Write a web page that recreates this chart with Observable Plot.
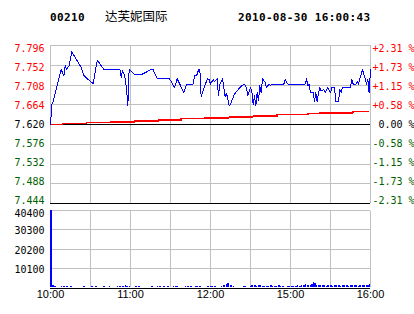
<!DOCTYPE html>
<html><head><meta charset="utf-8">
<script src="https://cdn.jsdelivr.net/npm/d3@7"></script>
<script src="https://cdn.jsdelivr.net/npm/@observablehq/plot@0.6"></script>
<style>
html,body{margin:0;padding:0;background:#fff;}
#wrap{position:relative;width:414px;height:314px;overflow:hidden;background:#fff;}
#wrap > *{position:absolute;left:0;}
</style></head><body><div id="wrap"></div>
<script>
// ---- header ----
const stockCode = "00210";
const stockName = "达芙妮国际";
const stamp = "2010-08-30 16:00:43";

// ---- price panel ----
const prevClose = 7.620;
const priceTicks = [7.796, 7.752, 7.708, 7.664, 7.620, 7.576, 7.532, 7.488, 7.444];
const priceLabels = ["7.796","7.752","7.708","7.664","7.620","7.576","7.532","7.488","7.444"];
const pctLabels = ["+2.31 %","+1.73 %","+1.15 %","+0.58 %"," 0.00 %","-0.58 %","-1.15 %","-1.73 %","-2.31 %"];

// trading minutes since 10:00 (morning 10:00-12:30, afternoon 14:30-16:00)
const priceMin = [0,1,2,8,10,11,12,14,16,17,23,25,28,32,35,36,38,40,52,53,54,55,56,57,58,59,60,61,63,68,72,75,77,80,89,91,93,95,97,100,102,107,108,110,111,112,113,115,116,118,119,120,122,123,125,126,127,129,130,131,132,134,135,138,142,145,146,147,148,150,151,152,153,154,155,156,157,158,159,161,162,164,165,166,175,176,177,178,191,192,193,194,195,197,198,199,200,201,202,203,205,206,207,208,210,211,213,214,216,217,218,219,225,226,227,229,230,231,232,233,234,235,236,237,238,239,240];
const priceVal = [7.620,7.665,7.671,7.743,7.728,7.751,7.743,7.751,7.782,7.777,
7.747,7.730,7.721,7.711,7.762,7.760,7.751,7.743,7.743,7.725,
7.740,7.733,7.722,7.700,7.662,7.743,7.740,7.737,7.731,7.731,
7.737,7.742,7.742,7.722,7.722,7.714,7.702,7.722,7.710,7.691,
7.710,7.710,7.728,7.731,7.742,7.743,7.682,7.699,7.710,7.722,
7.720,7.710,7.720,7.715,7.722,7.684,7.710,7.722,7.702,7.682,
7.690,7.662,7.665,7.688,7.702,7.710,7.708,7.702,7.684,7.702,
7.695,7.665,7.684,7.662,7.691,7.673,7.706,7.691,7.722,7.714,
7.702,7.710,7.706,7.710,7.710,7.721,7.715,7.710,7.710,7.722,
7.706,7.710,7.691,7.691,7.671,7.691,7.671,7.691,7.702,7.695,
7.698,7.691,7.698,7.702,7.691,7.702,7.702,7.671,7.671,7.698,
7.692,7.702,7.702,7.721,7.710,7.710,7.715,7.710,7.722,7.732,
7.742,7.732,7.722,7.710,7.721,7.690,7.743];

const avgMin = [0,9,27,45,63,81,98,116,134,152,170,193,202,227,238];
const avgVal = [7.620,7.622,7.624,7.626,7.628,7.630,7.633,7.635,7.637,7.639,7.642,7.644,7.646,7.649,7.649];

// ---- volume panel ----
const volTicks = [40400, 30300, 20200, 10100];
const volLabels = ["40400","30300","20200","10100"];
const volMin = [0,1,2,3,8,10,12,15,25,31,34,40,44,50,52,54,56,57,59,64,66,76,80,82,85,88,92,94,95,101,103,105,109,110,112,118,120,121,123,128,130,132,133,135,137,145,146,150,151,153,154,156,157,159,160,162,163,165,166,168,169,171,172,174,178,179,181,182,184,185,187,188,190,191,193,195,196,197,198,199,201,202,204,205,207,208,210,211,213,214,216,217,219,220,222,223,225,226,228,229,231,232,234,235,237,238,239];
const volVal = [40400,1040,1040,520,520,520,520,520,520,520,520,520,520,520,520,520,1040,520,520,520,520,520,520,520,520,520,520,520,520,520,520,520,520,520,520,520,520,520,520,520,1040,1550,2070,1040,520,520,520,520,1040,1040,520,1040,1040,520,520,520,520,1040,520,520,520,1040,520,520,520,520,520,520,520,1040,520,1040,1040,1550,1040,1040,1550,2590,2070,1040,1040,1040,1040,1040,520,1040,1040,520,1040,1040,1040,520,1040,1040,1040,520,1040,1040,1040,1040,520,1040,1040,1040,1040,1040,1550];

// x axis
const gridMin = [0,30,60,90,120,150,180,210,240];
const timeTicks = [0,60,120,180,240];
const timeLabels = ["10:00","11:00","12:00","15:00","16:00"];

const prices = priceMin.map((t,i) => ({t, p: priceVal[i]}));
const avg = avgMin.map((t,i) => ({t, v: avgVal[i]}));
const vols = volMin.map((t,i) => ({t, v: volVal[i]}));

const RED = "#ff0000", GREEN = "#005f00", BLUE = "#0000ff", GRAY = "#c0c0c0";
const MONO = "DejaVu Sans Mono";
const wrap = document.getElementById("wrap");

// header
const hdr = d3.create("svg").attr("width",414).attr("height",40).style("top","0px");
hdr.append("text").attr("x",50).attr("y",21).attr("font-family",MONO).attr("font-weight","bold")
  .attr("font-size",11).attr("letter-spacing",0.35).text(stockCode);
hdr.append("text").attr("x",105).attr("y",20.5).attr("font-family","Noto Sans CJK SC")
  .attr("font-size",12.5).text(stockName);
hdr.append("text").attr("x",238).attr("y",21).attr("font-family",MONO).attr("font-weight","bold")
  .attr("font-size",11).attr("letter-spacing",0.35).text(stamp);
wrap.appendChild(hdr.node());

const colorFor = i => i < 4 ? RED : (i === 4 ? "black" : GREEN);

const priceLabelMarks = priceTicks.flatMap((v,i) => [
  Plot.text([v], {y: d => d, text: [priceLabels[i]], frameAnchor: "left", dx: -6, dy: (4-i)*0.75,
    textAnchor: "end", fill: colorFor(i), fontFamily: MONO, fontSize: 10}),
  Plot.text([v], {y: d => d, text: [pctLabels[i]], frameAnchor: "right", dx: 2, dy: (4-i)*0.75,
    textAnchor: "start", fill: colorFor(i), fontFamily: MONO, fontSize: 10})
]);

const pricePlot = Plot.plot({
  width: 414, height: 167, marginLeft: 50, marginRight: 44, marginTop: 5, marginBottom: 4,
  x: {domain: [0,240], axis: null},
  y: {domain: [7.444, 7.796], axis: null},
  style: {background: "transparent", overflow: "visible"},
  marks: [
    Plot.ruleY(priceTicks, {stroke: GRAY, shapeRendering: "crispEdges"}),
    Plot.ruleX(gridMin, {stroke: GRAY, shapeRendering: "crispEdges"}),
    Plot.ruleY([prevClose, priceTicks[priceTicks.length-1]], {stroke: "black", shapeRendering: "crispEdges"}),
    Plot.line(avg, {x: "t", y: "v", stroke: RED, curve: "step-after", shapeRendering: "crispEdges"}),
    Plot.line(prices, {x: "t", y: "p", stroke: BLUE, strokeWidth: 1, shapeRendering: "crispEdges"}),
    ...priceLabelMarks
  ]
});
pricePlot.style.top = "40px";
wrap.appendChild(pricePlot);

const volLabelMarks = volTicks.map((v,i) =>
  Plot.text([v], {y: d => d, text: [volLabels[i]], frameAnchor: "left", dx: -6, dy: i === 0 ? 3.5 : 1.5,
    textAnchor: "end", fill: "black", fontFamily: MONO, fontSize: 10}));

// y(0) sits 1px above the black baseline so the bars stand on it
const volPlot = Plot.plot({
  width: 414, height: 107, marginLeft: 50, marginRight: 44, marginTop: 3, marginBottom: 27,
  x: {domain: [0,240], axis: null},
  y: {domain: [0, 40400], axis: null},
  style: {background: "transparent", overflow: "visible"},
  marks: [
    Plot.ruleY(volTicks, {stroke: GRAY, shapeRendering: "crispEdges"}),
    Plot.ruleX(gridMin, {stroke: GRAY, y1: 0, y2: 40400, dy: 0, insetBottom: -1, shapeRendering: "crispEdges"}),
    Plot.rectY(vols, {x1: "t", x2: d => d.t + 1.2, y: "v", fill: BLUE, shapeRendering: "crispEdges"}),
    Plot.ruleY([0], {stroke: "black", dy: 1, shapeRendering: "crispEdges"}),
    ...volLabelMarks,
    Plot.text(timeTicks, {x: d => d, text: timeLabels, frameAnchor: "bottom", dy: 10.5,
      fill: "black", fontFamily: "Liberation Sans", fontSize: 11})
  ]
});
volPlot.style.top = "207px";
wrap.appendChild(volPlot);
</script></body></html>
